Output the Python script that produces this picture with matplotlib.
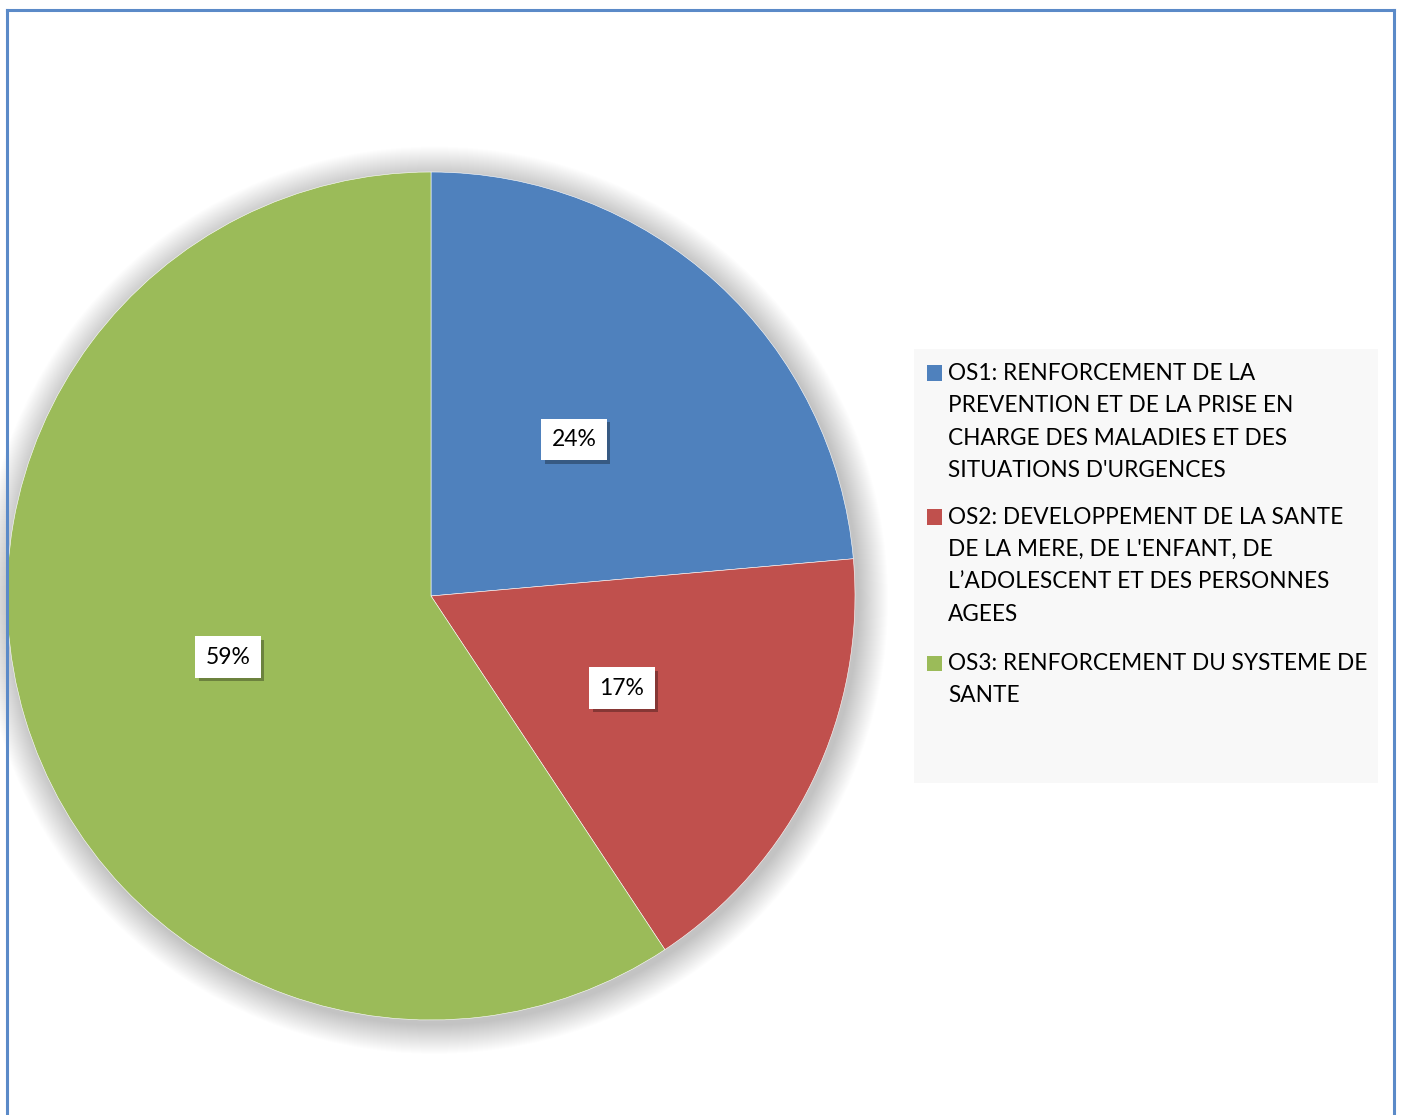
import matplotlib
matplotlib.use('Agg')
import matplotlib.pyplot as plt
import matplotlib.patheffects as pe
from matplotlib.patches import Circle, Rectangle
from matplotlib.lines import Line2D

plt.rcParams['font.family'] = ['Lato', 'DejaVu Sans']

# données
categories = [
    "OS1: RENFORCEMENT DE LA\nPREVENTION ET DE LA PRISE EN\nCHARGE DES MALADIES ET DES\nSITUATIONS D'URGENCES",
    "OS2: DEVELOPPEMENT DE LA SANTE\nDE LA MERE, DE L'ENFANT, DE\nL\u2019ADOLESCENT ET DES PERSONNES\nAGEES",
    "OS3: RENFORCEMENT DU SYSTEME DE\nSANTE",
]
values = [23.6, 17.1, 59.3]
colors = ['#4F81BD', '#C0504D', '#9BBB59']

W, H = 1403, 1115
fig = plt.figure(figsize=(W / 100, H / 100), dpi=100)

# cadre bleu autour du graphique
frame_col = '#5B8AC8'
fig.add_artist(Line2D([7 / W, 7 / W], [0, 1 - 10 / H], color=frame_col, lw=2.2))
fig.add_artist(Line2D([7 / W, 1394 / W], [1 - 10 / H, 1 - 10 / H], color=frame_col, lw=2.2))
fig.add_artist(Line2D([1394 / W, 1394 / W], [0, 1 - 10 / H], color=frame_col, lw=2.2))

# camembert
cx, cy, R = 431, 596, 424
ax = fig.add_axes([(cx - R) / W, (H - cy - R) / H, 2 * R / W, 2 * R / H])

wedges, texts, autotexts = ax.pie(
    values, colors=colors, startangle=90, counterclock=False,
    autopct='%1.0f%%', pctdistance=0.5, radius=1,
    wedgeprops=dict(edgecolor='white', linewidth=0.4),
    textprops=dict(fontsize=16.5, color='black'))
ax.set_xlim(-1, 1)
ax.set_ylim(-1, 1)
ax.set_aspect('equal')
ax.axis('off')

# ombre douce
n = 30
for i in range(n):
    r = 1.0 + 0.07 * (n - i) / n
    ax.add_patch(Circle((0.008, -0.01), r, color='#000000', alpha=0.008,
                        lw=0, clip_on=False, zorder=0))

for w in wedges:
    w.set_zorder(2)
for t in autotexts:
    t.set_zorder(5)
    t.set_bbox(dict(boxstyle='square,pad=0.45', facecolor='white', edgecolor='none'))
    t.get_bbox_patch().set_path_effects([
        pe.SimplePatchShadow(offset=(2.5, -2.5), shadow_rgbFace='#000000', alpha=0.3),
        pe.Normal()])

# légende
fig.add_artist(Rectangle((914 / W, 1 - 783 / H), (1378 - 914) / W, (783 - 349) / H,
                         transform=fig.transFigure, facecolor='#F8F8F8', edgecolor='none'))
line_h = 32.5
starts = [373, 517, 663]
for lab, col, y0 in zip(categories, colors, starts):
    fig.add_artist(Rectangle((927 / W, 1 - (y0 + 7.5) / H), 15 / W, 15 / H,
                             transform=fig.transFigure, facecolor=col, edgecolor='none'))
    for k, ln in enumerate(lab.split('\n')):
        fig.text(948 / W, 1 - (y0 + k * line_h) / H, ln, fontsize=16.3,
                 va='center', ha='left', color='black')

fig.savefig('out.png', dpi=100)
